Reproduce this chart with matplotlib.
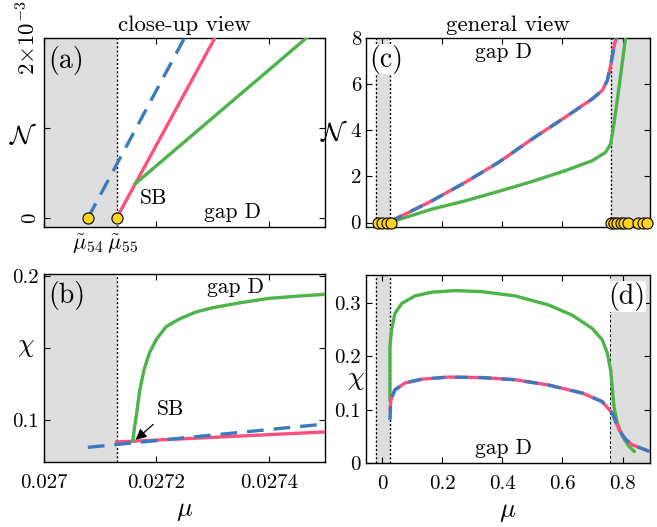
import matplotlib
matplotlib.use('Agg')
import matplotlib.pyplot as plt

plt.rcParams['font.family'] = ['cmr10', 'DejaVu Serif']
plt.rcParams['mathtext.fontset'] = 'cm'
plt.rcParams['axes.unicode_minus'] = False
plt.rcParams['axes.formatter.use_mathtext'] = True

BLUE = '#3a7bbf'
PINK = '#ff4f7d'
GREEN = '#4cb449'
GRAY = '#dedede'
YEL = '#ffd320'

# ---------------- panel (a): close-up, N vs mu ----------------
mu_a_blue = [0.027078, 0.02725]
N_a_blue = [0.0, 2.0e-3]
mu_a_pink = [0.027129, 0.027304]
N_a_pink = [0.0, 2.0e-3]
mu_a_green = [0.027162, 0.027467]
N_a_green = [0.00038, 2.0e-3]
mu_a_marks = [0.027078, 0.027129]
mu_a_gap = 0.027129

# ---------------- panel (b): close-up, chi vs mu ----------------
mu_b_blue = [0.027078, 0.0275]
chi_b_blue = [0.0810, 0.0972]
mu_b_pink = [0.027129, 0.0275]
chi_b_pink = [0.0847, 0.0917]
mu_b_green = [0.027158, 0.027161, 0.027165, 0.02717, 0.027178, 0.027188,
              0.0272, 0.027217, 0.02724, 0.02727, 0.0273, 0.02735, 0.0274,
              0.02745, 0.0275]
chi_b_green = [0.0852, 0.095, 0.105, 0.120, 0.135, 0.147,
               0.156, 0.1648, 0.170, 0.175, 0.178, 0.1815, 0.1845,
               0.1860, 0.1873]

# ---------------- panel (c): general view, N vs mu ----------------
mu_c_bp = [0.027, 0.032, 0.166, 0.277, 0.388, 0.499, 0.61, 0.699, 0.732,
           0.749, 0.76, 0.771, 0.779]
N_c_bp = [0.0, 0.07, 0.94, 1.74, 2.61, 3.62, 4.57, 5.36, 5.72,
          6.16, 6.81, 7.61, 8.04]
mu_c_green = [0.027, 0.032, 0.166, 0.277, 0.388, 0.499, 0.61, 0.699, 0.743,
              0.76, 0.771, 0.788, 0.804, 0.81]
N_c_green = [0.0, 0.03, 0.58, 0.94, 1.35, 1.78, 2.25, 2.68, 3.04,
             3.41, 4.28, 5.87, 7.46, 8.04]
mu_c_marks = [-0.014, 0.001, 0.016, 0.030,
              0.760, 0.771, 0.782, 0.793, 0.804, 0.818, 0.852, 0.866, 0.880]

# ---------------- panel (d): general view, chi vs mu ----------------
mu_d_green = [0.0267, 0.0267, 0.032, 0.043, 0.066, 0.11, 0.166, 0.243, 0.332,
              0.443, 0.554, 0.632, 0.699, 0.732, 0.749, 0.76, 0.771, 0.782,
              0.799, 0.821, 0.838]
chi_d_green = [0.118, 0.218, 0.249, 0.280, 0.299, 0.313, 0.320, 0.323, 0.321,
               0.313, 0.296, 0.277, 0.252, 0.231, 0.206, 0.174, 0.106, 0.075,
               0.050, 0.031, 0.022]
mu_d_blue = [0.0267, 0.030, 0.043, 0.077, 0.132, 0.221, 0.332, 0.443, 0.554,
             0.666, 0.732, 0.766, 0.788, 0.81, 0.832, 0.888]
chi_d_blue = [0.081, 0.118, 0.137, 0.150, 0.157, 0.161, 0.160, 0.156, 0.146,
              0.131, 0.115, 0.093, 0.062, 0.044, 0.034, 0.022]
mu_d_pink = [0.0271, 0.030, 0.043, 0.077, 0.132, 0.221, 0.332, 0.443, 0.554,
             0.666, 0.732, 0.766, 0.788, 0.81, 0.832, 0.888]
chi_d_pink = [0.100, 0.118, 0.137, 0.150, 0.157, 0.161, 0.160, 0.156, 0.146,
              0.131, 0.115, 0.093, 0.062, 0.044, 0.034, 0.022]

gap_left = (-0.02, 0.027)
gap_right = 0.760

LW = 2.4
TICKFS = 15
LABFS = 19
TXTFS = 15.5
PANFS = 20

fig = plt.figure(figsize=(6.57, 5.27), dpi=100)
axa = fig.add_axes([0.067, 0.569, 0.4277, 0.359])
axb = fig.add_axes([0.067, 0.1233, 0.4277, 0.3567])
axc = fig.add_axes([0.557, 0.569, 0.432, 0.359])
axd = fig.add_axes([0.557, 0.1214, 0.432, 0.3566])

for ax in (axa, axb, axc, axd):
    ax.tick_params(direction='in', top=True, right=True, length=4,
                   width=0.8, labelsize=TICKFS)
    for s in ax.spines.values():
        s.set_linewidth(1.0)

# ---- (a)
axa.set_xlim(0.027, 0.0275)
axa.set_ylim(-0.1e-3, 2.0e-3)
axa.axvspan(0.026, mu_a_gap, color=GRAY, lw=0, zorder=0)
axa.axvline(mu_a_gap, color='k', ls=(0, (1.5, 1.5)), lw=1.0, zorder=1)
axa.plot(mu_a_pink, N_a_pink, color=PINK, lw=LW, zorder=3)
axa.plot(mu_a_green, N_a_green, color=GREEN, lw=LW, zorder=3)
axa.plot(mu_a_blue, N_a_blue, color=BLUE, lw=LW, ls=(0, (5, 3)), zorder=3)
axa.plot(mu_a_marks, [0, 0], 'o', ms=8, mfc=YEL, mec='k', mew=0.8,
         zorder=5, clip_on=False)
axa.set_xticks([0.027, 0.0272, 0.0274])
axa.set_xticklabels([])
axa.set_yticks([0, 1e-3, 2e-3])
axa.set_yticklabels(['0', '', r'$2{\times}10^{-3}$'], rotation=90, va='center',
                    fontsize=15)
axa.get_yticklabels()[2].set_fontsize(16.5)
axa.set_ylabel(r'$\mathcal{N}$', fontsize=LABFS, rotation=0, va='center')
axa.yaxis.set_label_coords(-0.075, 0.48)
axa.set_title('close-up view', fontsize=16.5, pad=5)
axa.text(0.015, 0.955, '(a)', transform=axa.transAxes, fontsize=PANFS, va='top', ha='left')
axa.text(0.02717, 0.00022, 'SB', fontsize=TXTFS, va='center', ha='left')
axa.text(0.027335, 0.00007, 'gap D', fontsize=TXTFS, va='center', ha='center')
axa.text(0.027078, -0.00029, r'$\tilde{\mu}_{54}$', fontsize=16, ha='center', va='center')
axa.text(0.027140, -0.00029, r'$\tilde{\mu}_{55}$', fontsize=16, ha='center', va='center')

# ---- (b)
axb.set_xlim(0.027, 0.0275)
axb.set_ylim(0.0708, 0.2014)
axb.axvspan(0.026, mu_a_gap, color=GRAY, lw=0, zorder=0)
axb.axvline(mu_a_gap, color='k', ls=(0, (1.5, 1.5)), lw=1.0, zorder=1)
axb.plot(mu_b_pink, chi_b_pink, color=PINK, lw=LW, zorder=3)
axb.plot(mu_b_green, chi_b_green, color=GREEN, lw=LW, zorder=3)
axb.plot(mu_b_blue, chi_b_blue, color=BLUE, lw=LW, ls=(0, (5, 3)), zorder=4)
axb.set_xticks([0.027, 0.0272, 0.0274])
axb.set_xticklabels(['0.027', '0.0272', '0.0274'])
axb.set_yticks([0.1, 0.15, 0.2])
axb.set_yticklabels(['0.1', '', '0.2'])
axb.tick_params(axis='x', pad=9)
axb.set_ylabel(r'$\chi$', fontsize=LABFS, rotation=0, va='center')
axb.yaxis.set_label_coords(-0.065, 0.61)
axb.set_xlabel(r'$\mu$', fontsize=LABFS, labelpad=5)
axb.text(0.015, 0.965, '(b)', transform=axb.transAxes, fontsize=PANFS, va='top', ha='left')
axb.text(0.02734, 0.192, 'gap D', fontsize=TXTFS, va='center', ha='center')
axb.annotate('SB', xy=(0.027163, 0.0862), xytext=(0.027225, 0.1075),
             fontsize=TXTFS, ha='center', va='center',
             arrowprops=dict(arrowstyle='-|>', color='k', lw=0.9,
                             mutation_scale=16, shrinkA=3, shrinkB=0))

# ---- (c)
axc.set_xlim(-0.053, 0.89)
axc.set_ylim(-0.2, 8.0)
axc.axvspan(gap_left[0], gap_left[1], color=GRAY, lw=0, zorder=0)
axc.axvspan(gap_right, 1.0, color=GRAY, lw=0, zorder=0)
for g in (gap_left[0], gap_left[1], gap_right):
    axc.axvline(g, color='k', ls=(0, (1.5, 1.5)), lw=1.0, zorder=1)
axc.plot(mu_c_green, N_c_green, color=GREEN, lw=LW, zorder=3)
axc.plot(mu_c_bp, N_c_bp, color=PINK, lw=LW, zorder=3)
axc.plot(mu_c_bp, N_c_bp, color=BLUE, lw=LW, ls=(0, (4, 3)), zorder=4)
axc.plot(mu_c_marks, [0] * len(mu_c_marks), 'o', ms=8, mfc=YEL, mec='k',
         mew=0.8, zorder=5, clip_on=False)
axc.set_xticks([0, 0.2, 0.4, 0.6, 0.8])
axc.set_xticklabels([])
axc.set_yticks([0, 2, 4, 6, 8])
axc.set_yticklabels(['0', '2', '4', '6', '8'])
axc.set_ylabel(r'$\mathcal{N}$', fontsize=LABFS, rotation=0, va='center')
axc.yaxis.set_label_coords(-0.11, 0.5)
axc.set_title('general view', fontsize=16.5, pad=5)
axc.text(0.012, 0.965, '(c)', transform=axc.transAxes, fontsize=PANFS, va='top', ha='left',
         bbox=dict(facecolor='white', edgecolor='none', pad=0.5), zorder=6)
axc.text(0.405, 7.4, 'gap D', fontsize=TXTFS, va='center', ha='center')

# ---- (d)
axd.set_xlim(-0.053, 0.89)
axd.set_ylim(0.0, 0.352)
axd.axvspan(gap_left[0], gap_left[1], color=GRAY, lw=0, zorder=0)
axd.axvspan(gap_right, 1.0, color=GRAY, lw=0, zorder=0)
for g in (gap_left[0], gap_left[1]):
    axd.axvline(g, color='k', ls=(0, (1.5, 1.5)), lw=1.0, zorder=1)
axd.axvline(0.757, color='k', ls=(0, (3, 2)), lw=0.7, zorder=1)
axd.plot(mu_d_green, chi_d_green, color=GREEN, lw=LW, zorder=3)
axd.plot(mu_d_pink, chi_d_pink, color=PINK, lw=LW, zorder=3)
axd.plot(mu_d_blue, chi_d_blue, color=BLUE, lw=LW, ls=(0, (4, 3)), zorder=4)
axd.set_xticks([0, 0.2, 0.4, 0.6, 0.8])
axd.set_xticklabels(['0', '0.2', '0.4', '0.6', '0.8'])
axd.set_yticks([0, 0.1, 0.2, 0.3])
axd.set_yticklabels(['0', '0.1', '0.2', '0.3'])
axd.tick_params(axis='x', pad=9)
axd.set_ylabel(r'$\chi$', fontsize=LABFS, rotation=0, va='center')
axd.yaxis.set_label_coords(-0.035, 0.44)
axd.set_xlabel(r'$\mu$', fontsize=LABFS, labelpad=5)
axd.text(0.985, 0.965, '(d)', transform=axd.transAxes, fontsize=PANFS, va='top', ha='right',
         bbox=dict(facecolor='white', edgecolor='none', pad=0.5), zorder=6)
axd.text(0.405, 0.028, 'gap D', fontsize=TXTFS, va='center', ha='center')

fig.savefig('out.png', dpi=100)
